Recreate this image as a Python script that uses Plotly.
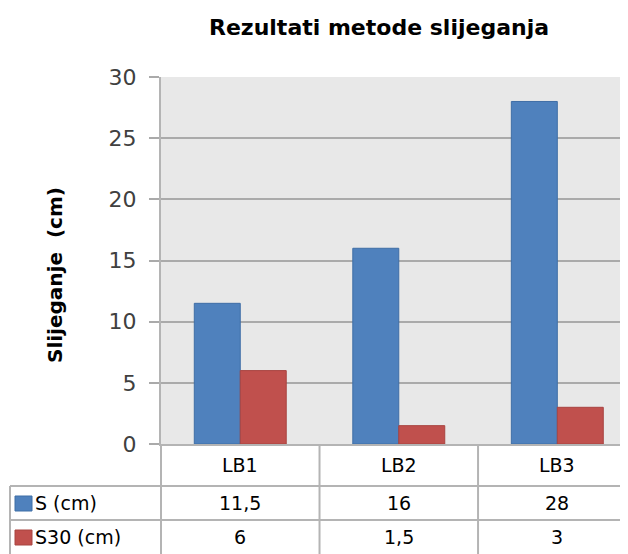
import plotly.graph_objects as go

categories = ["LB1", "LB2", "LB3"]
series_names = ["S (cm)", "S30 (cm)"]
s_values = [11.5, 16, 28]
s30_values = [6, 1.5, 3]
s_labels = ["11,5", "16", "28"]
s30_labels = ["6", "1,5", "3"]
y_ticks = [0, 5, 10, 15, 20, 25, 30]

# page body has an 8px margin; compensate so that screen pixels match
OFF = 8
W, H = 628, 554
PL, PT, PB = 161, 77, 444          # screen pixel positions of plot edges
FW, FH = W - OFF, H - OFF
L, T, B = PL - OFF, PT - OFF, H - PB
PW, PH = FW - L, FH - T - B

colors = ["#4f81bd", "#c0504d"]
edge = ["#3f6ea6", "#a84441"]
font = "DejaVu Sans"
txt = "#404040"
line = "#b4b4b4"

def pxx(sx):
    return (sx - PL) / PW

def pyy(sy):
    return (PB - sy) / PH

fig = go.Figure()
for name, vals, c, e in zip(series_names, [s_values, s30_values], colors, edge):
    fig.add_trace(go.Bar(x=categories, y=vals, name=name, marker_color=c,
                         marker_line_color=e, marker_line_width=1))

fig.update_layout(
    width=FW, height=FH, margin=dict(l=L, r=0, t=T, b=B),
    paper_bgcolor="white", plot_bgcolor="#e8e8e8",
    barmode="group", bargap=0.42, bargroupgap=0,
    showlegend=False,
    font=dict(family=font, color=txt),
)
fig.update_xaxes(range=[-0.5, 2.446], showticklabels=False, showgrid=False,
                 showline=True, linecolor=line, linewidth=2, zeroline=False, ticks="")
fig.update_yaxes(range=[0, 30], tickvals=y_ticks, showgrid=True, gridcolor="#aaaaaa",
                 gridwidth=1.5, showline=True, linecolor=line, linewidth=2,
                 ticks="outside", ticklen=10, tickcolor="#aaaaaa", tickwidth=1.5,
                 ticklabelstandoff=8, tickfont=dict(size=22, color=txt, family=font),
                 zeroline=False)

# Title
fig.add_annotation(text="<b>Rezultati metode slijeganja</b>", xref="paper", yref="paper",
                   x=pxx(379), y=pyy(28),
                   showarrow=False, font=dict(size=22, family="DejaVu Sans", color="black"),
                   xanchor="center", yanchor="middle")
# Y-axis title
fig.add_annotation(text="<b>Slijeganje  (cm)</b>", xref="paper", yref="paper",
                   x=pxx(55), y=pyy(275),
                   showarrow=False, textangle=-90, font=dict(size=20, family=font, color="black"),
                   xanchor="center", yanchor="middle")

row_lines = [486, 520]
for yl in row_lines:
    fig.add_shape(type="line", xref="paper", yref="paper",
                  x0=pxx(10), x1=1, y0=pyy(yl), y1=pyy(yl),
                  line=dict(color=line, width=2))
fig.add_shape(type="line", xref="paper", yref="paper", x0=0, x1=0, y0=pyy(444), y1=pyy(556),
              line=dict(color=line, width=2))
fig.add_shape(type="line", xref="paper", yref="paper",
              x0=pxx(10), x1=pxx(10), y0=pyy(486), y1=pyy(556),
              line=dict(color=line, width=2))
for i in range(len(categories) - 1):
    fig.add_shape(type="line", xref="x", yref="paper", x0=i + 0.5, x1=i + 0.5,
                  y0=pyy(444), y1=pyy(556), line=dict(color=line, width=2))

row_centers = [465, 503, 537]
for c in categories:
    fig.add_annotation(text=c, x=c, xref="x", yref="paper", y=pyy(row_centers[0]),
                       showarrow=False, font=dict(size=19, color="black", family=font),
                       yanchor="middle")
for r, labels in enumerate([s_labels, s30_labels]):
    for i, c in enumerate(categories):
        fig.add_annotation(text=labels[i], x=c, xref="x", yref="paper", y=pyy(row_centers[r + 1]),
                           showarrow=False, font=dict(size=19, color="black", family=font),
                           yanchor="middle")
    fig.add_shape(type="rect", xref="paper", yref="paper",
                  x0=pxx(15), x1=pxx(32),
                  y0=pyy(row_centers[r + 1] + 8), y1=pyy(row_centers[r + 1] - 7),
                  fillcolor=colors[r], line=dict(color=edge[r], width=1))
    fig.add_annotation(text=series_names[r], xref="paper", yref="paper",
                       x=pxx(33), y=pyy(row_centers[r + 1]),
                       showarrow=False, xanchor="left", yanchor="middle",
                       font=dict(size=19, color="black", family=font))

fig.write_html("out.html")
